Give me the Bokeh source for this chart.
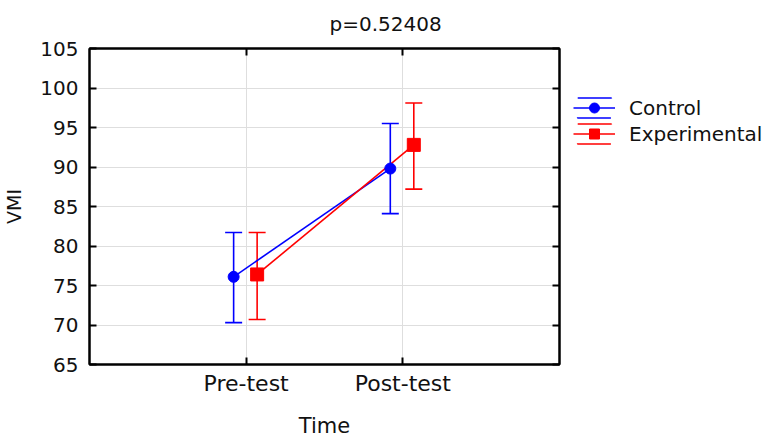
from bokeh.plotting import figure
from bokeh.layouts import row
from bokeh.models import (ColumnDataSource, Whisker, TeeHead, FixedTicker, LinearAxis,
                          Range1d, Legend, LegendItem)
from bokeh.embed import file_html
from bokeh.resources import INLINE

# ---- data ----
categories = ["Pre-test", "Post-test"]
control_mean = [76.1, 89.8]
control_low = [70.3, 84.1]
control_high = [81.7, 95.5]
exp_mean = [76.4, 92.8]
exp_low = [70.7, 87.2]
exp_high = [81.7, 98.1]
y_ticks = [65, 70, 75, 80, 85, 90, 95, 100, 105]
series_names = ["Control", "Experimental"]
title_text = "p=0.52408"
x_title = "Time"
y_title = "VMI"

FONT = "DejaVu Sans"
BLUE = "#0000ff"
RED = "#ff0000"

cat_pos = [i + 1 for i in range(len(categories))]
ctrl_x = [c - 0.08 for c in cat_pos]
exp_x = [c + 0.07 for c in cat_pos]

src_c = ColumnDataSource(dict(x=ctrl_x, m=control_mean, lo=control_low, hi=control_high))
src_e = ColumnDataSource(dict(x=exp_x, m=exp_mean, lo=exp_low, hi=exp_high))

P_W = 565
BORDER_TOP = 48
BORDER_BOTTOM = 75
p = figure(width=P_W, height=440, output_backend="svg", toolbar_location=None,
           x_range=Range1d(0, len(categories) + 1), y_range=Range1d(y_ticks[0], y_ticks[-1]),
           min_border_left=88, min_border_right=6,
           min_border_top=BORDER_TOP, min_border_bottom=BORDER_BOTTOM)
p.background_fill_color = "white"
p.border_fill_color = "white"
p.outline_line_color = "black"
p.outline_line_width = 2

p.title.text = title_text
p.title.align = "left"
p.title.offset = 240
p.title.vertical_align = "top"
p.title.text_font = FONT
p.title.text_font_size = "20px"
p.title.text_font_style = "normal"
p.title.text_color = "#111111"
p.title.standoff = 22

# axes
xa = p.xaxis[0]
ya = p.yaxis[0]
xa.ticker = FixedTicker(ticks=cat_pos)
xa.major_label_overrides = {c: lab for c, lab in zip(cat_pos, categories)}
ya.ticker = FixedTicker(ticks=y_ticks)
for ax in (xa, ya):
    ax.axis_line_color = "black"
    ax.axis_line_width = 2
    ax.major_tick_in = 7
    ax.major_tick_out = 0
    ax.major_tick_line_width = 2
    ax.minor_tick_line_color = None
    ax.major_label_text_font = FONT
    ax.major_label_text_color = "#111111"
    ax.axis_label_text_font = FONT
    ax.axis_label_text_font_style = "normal"
    ax.axis_label_text_color = "#111111"
xa.major_label_text_font_size = "22px"
ya.major_label_text_font_size = "20px"
xa.major_label_standoff = 6
ya.major_label_standoff = 11
xa.axis_label = x_title
ya.axis_label = y_title
xa.axis_label_text_font_size = "21px"
ya.axis_label_text_font_size = "19px"
xa.axis_label_standoff = 15
ya.axis_label_standoff = 12

# mirrored axes (ticks only)
top = LinearAxis(ticker=FixedTicker(ticks=cat_pos))
right = LinearAxis(ticker=FixedTicker(ticks=y_ticks))
for ax in (top, right):
    ax.axis_line_color = "black"
    ax.axis_line_width = 2
    ax.major_tick_in = 7
    ax.major_tick_out = 0
    ax.major_tick_line_width = 2
    ax.minor_tick_line_color = None
    ax.major_label_text_font_size = "0px"
    ax.major_label_standoff = 0
p.add_layout(top, "above")
p.add_layout(right, "right")

p.xgrid.ticker = FixedTicker(ticks=cat_pos)
p.ygrid.ticker = FixedTicker(ticks=y_ticks)
p.xgrid.grid_line_color = "#dedede"
p.ygrid.grid_line_color = "#dedede"
p.xgrid.grid_line_width = 1
p.ygrid.grid_line_width = 1

# error bars
for src, col in ((src_c, BLUE), (src_e, RED)):
    w = Whisker(source=src, base="x", upper="hi", lower="lo", dimension="height",
                line_color=col, line_width=1.6,
                upper_head=TeeHead(size=17, line_color=col, line_width=1.6),
                lower_head=TeeHead(size=17, line_color=col, line_width=1.6))
    p.add_layout(w)

# lines and markers
p.line("x", "m", source=src_c, line_color=BLUE, line_width=1.6)
p.line("x", "m", source=src_e, line_color=RED, line_width=1.6)
p.scatter("x", "m", source=src_c, marker="circle", size=11, color=BLUE)
p.scatter("x", "m", source=src_e, marker="square", size=13, color=RED)

# ---- legend panel (separate figure; same sources, data kept out of its view) ----
lf = figure(width=778 - P_W, height=440, output_backend="svg", toolbar_location=None,
            x_range=Range1d(100, 101), y_range=Range1d(0, 1),
            x_axis_location=None, y_axis_location=None,
            min_border_left=0, min_border_right=0,
            min_border_top=BORDER_TOP, min_border_bottom=BORDER_BOTTOM)
lf.outline_line_color = None
lf.grid.visible = False
lf.background_fill_color = "white"
lf.border_fill_color = "white"

legend_items = []
for name, src, col, mk, sz in ((series_names[0], src_c, BLUE, "circle", 11),
                               (series_names[1], src_e, RED, "square", 13)):
    cap = lf.rect("x", "m", source=src, width=0, height=0, fill_color=None,
                  line_color=col, line_width=1.6, line_dash="34 20")
    ln = lf.line("x", "m", source=src, line_color=col, line_width=1.6)
    mkr = lf.scatter("x", "m", source=src, marker=mk, size=sz, color=col)
    legend_items.append(LegendItem(label=name, renderers=[cap, ln, mkr]))

legend = Legend(items=legend_items, location=(8, 218))
legend.glyph_width = 42
legend.glyph_height = 25
legend.spacing = 1
legend.padding = 0
legend.margin = 0
legend.label_standoff = 14
legend.label_text_font = FONT
legend.label_text_font_size = "20px"
legend.label_text_color = "#111111"
legend.border_line_alpha = 0
legend.background_fill_alpha = 0
lf.add_layout(legend)

layout = row(p, lf)
open("out.html", "w").write(file_html(layout, INLINE))
